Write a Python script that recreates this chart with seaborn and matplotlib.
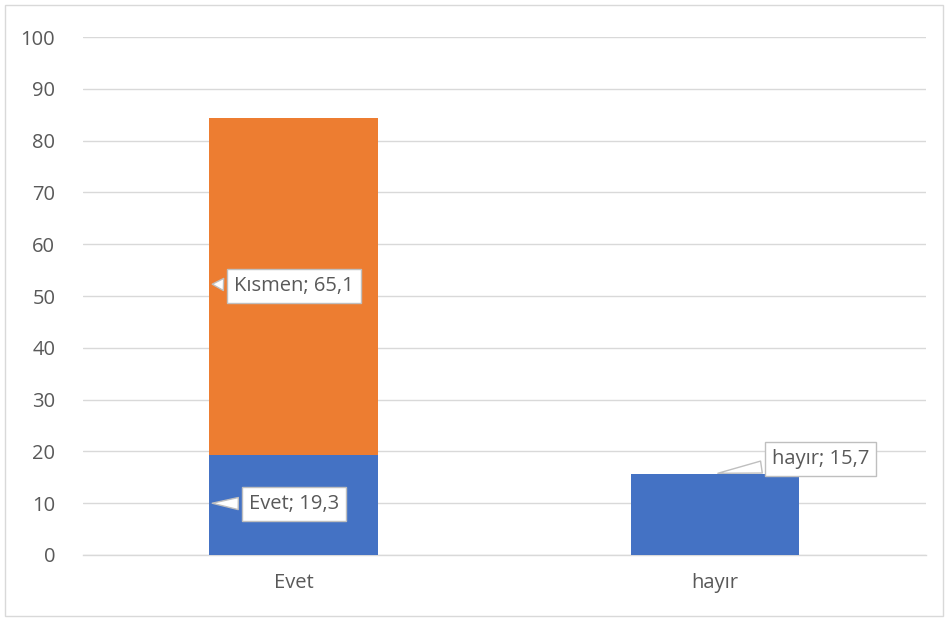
import matplotlib
matplotlib.use("Agg")
import matplotlib.pyplot as plt
import seaborn as sns
import pandas as pd
from matplotlib.patches import Rectangle

# chart data
categories = ["Evet", "hayır"]
evet_values = [19.3, 15.7]      # blue series
kismen_values = [65.1, 0.0]     # orange series (stacked on top)
series_names = ["Evet", "Kısmen"]
y_ticks = [0, 10, 20, 30, 40, 50, 60, 70, 80, 90, 100]

BLUE = "#4472C4"
ORANGE = "#ED7D31"
TEXT = "#595959"
GRID = "#D9D9D9"
FS = 14.5

sns.set_style("white")
plt.rcParams["font.family"] = ["Open Sans", "DejaVu Sans"]

df = pd.DataFrame({"cat": categories, "evet": evet_values, "kismen": kismen_values})
df["total"] = df["evet"] + df["kismen"]

fig = plt.figure(figsize=(9.49, 6.21), dpi=100)
ax = fig.add_axes([0.0875, 0.1063, 0.888, 0.834])

# stacked bars: draw the totals first, then the lower series on top
sns.barplot(data=df, x="cat", y="total", color=ORANGE, width=0.4,
            saturation=1, linewidth=0, ax=ax, zorder=2)
sns.barplot(data=df, x="cat", y="evet", color=BLUE, width=0.4,
            saturation=1, linewidth=0, ax=ax, zorder=3)

ax.set_ylim(0, 100)
ax.set_xlim(-0.5, 1.5)
ax.set_yticks(y_ticks)
ax.yaxis.grid(True, color=GRID, linewidth=1, zorder=0)
ax.set_axisbelow(True)
for s in ["left", "right", "top"]:
    ax.spines[s].set_visible(False)
ax.spines["bottom"].set_color(GRID)
ax.spines["bottom"].set_linewidth(1)

ax.tick_params(axis="y", length=0, labelsize=FS, labelcolor=TEXT, pad=20)
ax.tick_params(axis="x", which="major", length=0, labelsize=FS,
               labelcolor=TEXT, pad=13)
ax.set_xticks([-0.5, 0.5, 1.5], minor=True)
ax.tick_params(axis="x", which="minor", length=5, color=GRID, width=1)
ax.set_xlabel("")
ax.set_ylabel("")

# callout labels
box = dict(boxstyle="square,pad=0.35", fc="white", ec="#BFBFBF", lw=1)
arrow = dict(arrowstyle="wedge,tail_width=0.6,shrink_factor=0.5",
             fc="white", ec="#BFBFBF", lw=1)

ax.annotate(f"{series_names[1]}; {kismen_values[0]:.1f}".replace(".", ","),
            xy=(-0.2, 52.3), xytext=(0.0, 51.9), ha="center", va="center",
            fontsize=FS, color=TEXT, bbox=box, arrowprops=arrow, zorder=5)
ax.annotate(f"{series_names[0]}; {evet_values[0]:.1f}".replace(".", ","),
            xy=(-0.2, 10.0), xytext=(0.0, 9.8), ha="center", va="center",
            fontsize=FS, color=TEXT, bbox=box, arrowprops=arrow, zorder=5)
ax.annotate(f"{categories[1]}; {evet_values[1]:.1f}".replace(".", ","),
            xy=(1.0, evet_values[1]), xytext=(1.25, 18.6), ha="center",
            va="center", fontsize=FS, color=TEXT, bbox=box, arrowprops=arrow,
            zorder=5)

# light frame around the chart area
fig.patches.append(Rectangle((0.005, 0.008), 0.989, 0.984, transform=fig.transFigure,
                             fill=False, ec=GRID, lw=1))

fig.savefig("out.png", dpi=100, facecolor="white")
